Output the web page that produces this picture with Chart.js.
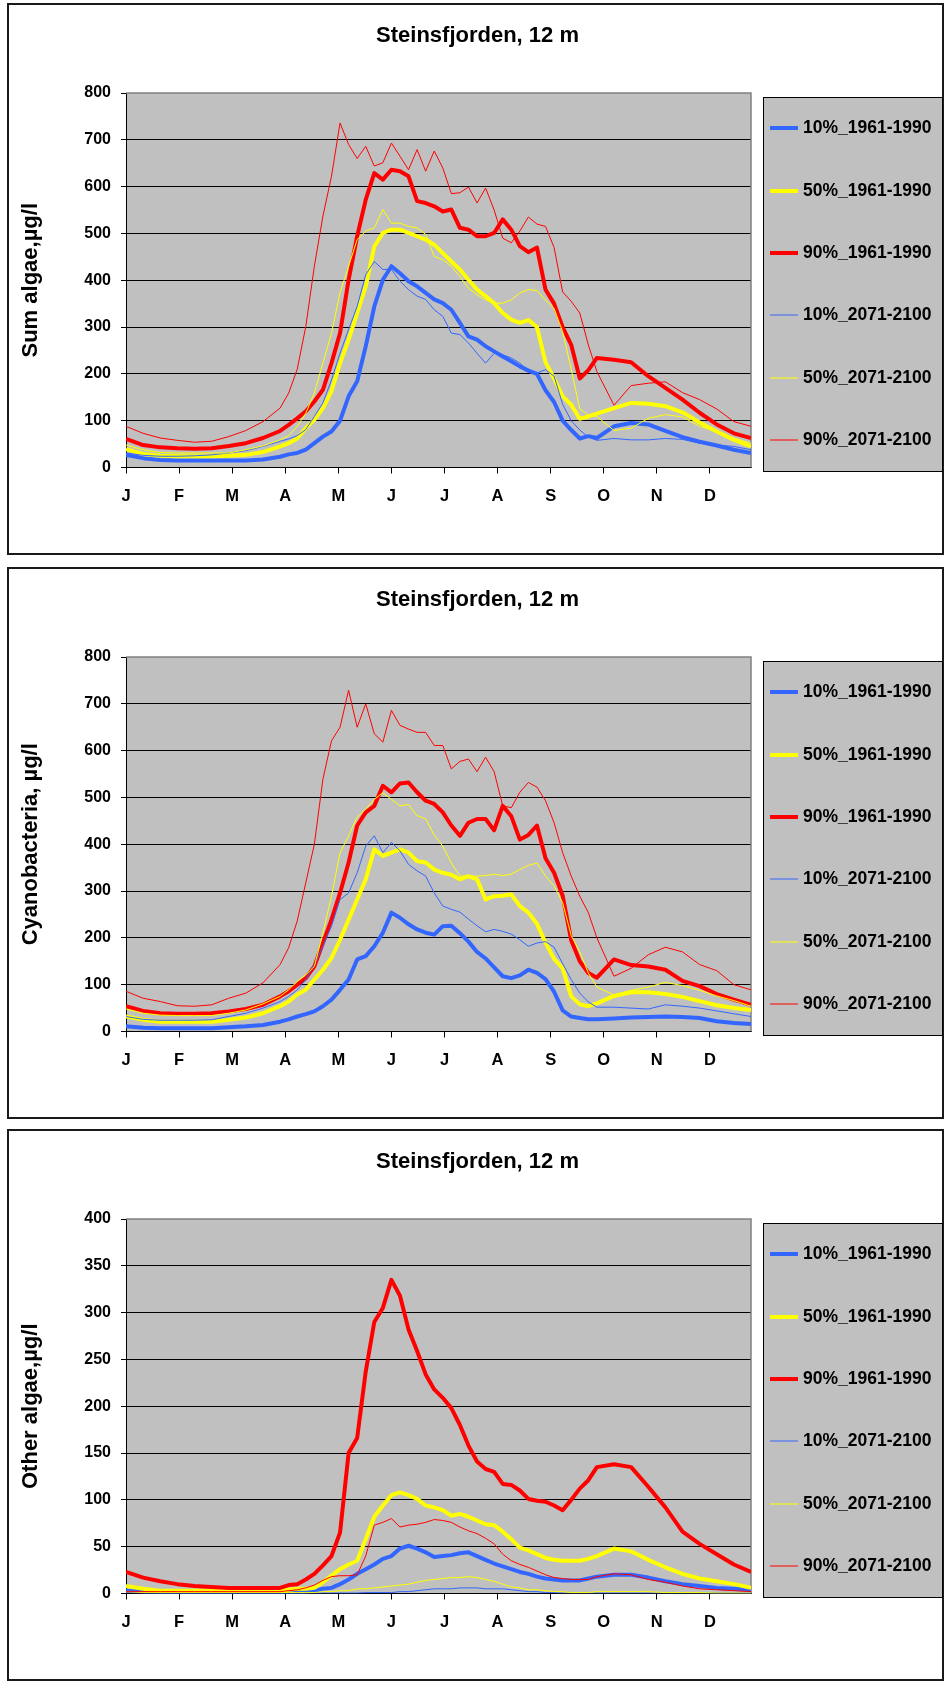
<!DOCTYPE html>
<html>
<head>
<meta charset="utf-8">
<title>Steinsfjorden, 12 m</title>
<script src="https://cdn.jsdelivr.net/npm/chart.js@4"></script>
<style>
  html, body { margin: 0; padding: 0; background: #fff; overflow: hidden; }
  body { width: 948px; height: 1682px; position: relative; }
  .frame { position: absolute; left: 7px; width: 937px; height: 552px; border: 2px solid #1a1a1a; box-sizing: border-box; }
  canvas { position: absolute; left: 0; }
</style>
</head>
<body>
<div class="frame" style="top:3px"></div>
<div class="frame" style="top:567px"></div>
<div class="frame" style="top:1129px"></div>
<canvas id="sumChart" width="948" height="556" style="top:0"></canvas>
<canvas id="cyanoChart" width="948" height="556" style="top:564px"></canvas>
<canvas id="otherChart" width="948" height="556" style="top:1126px"></canvas>
<script>
// day of year for every sample
const days = [0,10,20,30,40,50,60,70,80,90,
  95,100,105,110,115,120,125,130,135,140,145,150,155,160,165,170,175,180,185,190,
  195,200,205,210,215,220,225,230,235,240,245,250,255,260,265,270,275,
  285,295,305,315,325,335,345,355,365];

const monthStarts = [0,31,62,93,124,155,186,217,248,279,310,341];
const monthLetters = ['J','F','M','A','M','J','J','A','S','O','N','D'];

const seriesLabels = ['10%_1961-1990','50%_1961-1990','90%_1961-1990',
                      '10%_2071-2100','50%_2071-2100','90%_2071-2100'];

// Sum algae, µg/l
const sum10Ref = [27,20,16,15,15,15,15,15,17,23,
  28,31,38,52,66,77,100,152,184,259,344,401,430,415,398,387,373,359,351,337,
  309,280,273,259,248,237,227,216,207,200,165,140,100,80,62,67,63,
  88,95,92,78,65,55,47,38,31];
const sum50Ref = [39,29,25,24,24,24,25,27,33,45,
  52,62,84,102,127,163,223,273,330,387,472,501,508,508,501,494,487,476,458,440,
  423,401,380,366,351,330,316,309,315,300,225,190,152,134,104,109,115,
  127,138,136,131,118,96,77,59,45];
const sum90Ref = [61,48,43,41,40,41,46,52,63,78,
  91,105,120,141,166,223,287,401,494,572,629,615,636,633,622,569,565,558,547,551,
  512,508,494,494,501,530,508,473,460,470,380,350,300,262,190,208,234,
  230,225,195,170,145,117,92,73,63];
const sum10Fut = [31,26,24,24,25,27,31,36,45,56,
  61,68,81,109,138,187,244,295,344,412,440,423,423,398,380,366,359,337,323,287,
  284,266,244,223,244,241,234,223,206,202,209,195,135,100,80,65,58,
  62,59,59,62,60,52,48,45,38];
const sum50Fut = [48,38,32,31,31,31,31,38,46,59,
  68,88,116,159,223,287,373,430,487,505,512,551,522,522,515,512,498,451,444,430,
  408,383,369,358,351,351,358,373,380,378,358,340,290,210,125,112,109,
  79,84,105,113,108,88,76,63,52];
const sum90Fut = [88,73,63,58,54,56,66,79,98,127,
  159,210,301,430,537,622,736,690,660,686,644,651,693,665,636,679,633,676,640,585,
  587,599,565,597,550,490,480,505,535,520,515,470,375,355,330,262,205,
  133,175,180,183,160,145,125,98,88];

// Cyanobacteria, µg/l
const cyano10Ref = [11,8,7,7,7,7,9,11,14,21,
  26,32,37,43,54,68,89,111,154,161,182,211,254,243,229,218,211,207,225,226,
  210,192,170,156,137,118,114,120,132,125,112,85,45,32,29,26,26,
  28,30,31,32,31,29,22,18,16];
const cyano50Ref = [32,25,21,21,21,21,25,30,39,54,
  64,79,89,111,132,157,196,239,282,325,389,375,382,389,382,364,361,346,339,335,
  325,332,325,282,289,290,293,268,254,230,190,155,135,75,58,54,60,
  76,84,84,80,74,65,56,50,46];
const cyano90Ref = [54,44,39,38,38,39,43,48,57,75,
  86,100,114,139,189,239,296,361,440,468,482,525,511,530,532,511,493,486,468,440,
  418,446,454,454,430,482,460,410,420,440,370,339,290,195,150,125,115,
  154,142,139,132,108,97,80,68,57];
const cyano10Fut = [32,26,24,24,24,25,32,39,50,64,
  75,89,111,143,182,225,282,296,339,396,418,382,404,386,357,343,332,296,268,261,
  255,240,226,213,218,214,208,196,182,189,192,180,145,111,82,63,52,
  52,50,48,57,54,50,44,38,32];
const cyano50Fut = [48,39,35,34,34,34,39,46,59,75,
  89,107,121,139,210,289,382,418,458,475,496,510,496,482,485,461,454,420,396,360,
  332,332,332,333,336,333,336,346,355,360,332,311,275,205,170,125,95,
  78,88,95,105,98,88,76,66,54];
const cyano90Fut = [86,71,64,55,54,57,71,82,104,143,
  179,236,318,400,539,621,650,729,650,700,636,618,686,654,646,639,639,611,611,561,
  577,582,555,586,555,482,478,511,532,522,493,446,382,332,289,254,200,
  118,135,164,180,170,143,130,100,89];

// Other algae, µg/l
const other10Ref = [3,2,2,2,2,2,2,2,2,2,
  2,2,2,3,5,6,10,15,21,26,31,37,40,48,51,48,44,39,40,41,
  43,44,40,36,32,29,26,23,21,18,16,15,14,14,14,16,18,
  20,20,17,13,10,8,6,5,4];
const other50Ref = [8,5,3,3,3,3,3,3,3,3,
  4,5,5,6,12,19,26,31,35,58,82,94,105,108,105,101,94,92,89,83,
  85,82,78,74,73,66,58,49,46,42,38,36,35,35,35,37,40,
  48,45,36,28,21,16,13,10,6];
const other90Ref = [23,17,13,10,8,7,6,6,6,6,
  9,10,15,21,30,40,65,150,166,237,290,305,335,318,282,259,234,218,209,198,
  180,158,141,133,130,117,116,110,101,99,98,94,89,100,112,121,135,
  138,135,114,92,66,53,42,31,23];
const other10Fut = [1,1,0.5,0.5,0.5,0.5,0.5,0.5,0.5,0.5,
  0.5,0.5,0.5,0.5,0.5,0.5,0.5,0.5,0.5,1,1,1,1,2,2,3,4,5,5,5,
  6,6,6,5,5,5,4,3,2,2,1,1,0.5,0.5,0.5,0.5,0.5,
  0.5,0.5,0.5,0.5,0.5,0.5,0.5,0.5,0.5];
const other50Fut = [2,1,1,1,1,1,1,1,1,1,
  1,1,1,1,2,2,3,3,5,5,6,7,8,9,10,12,14,15,16,17,
  17,18,17,15,13,10,7,6,4,4,3,2,2,1,1,1,2,
  2,2,2,1,1,1,0.5,0.5,0.4];
const other90Fut = [2,2,2,2,2,2,2,2,2,2,
  3,4,6,9,14,18,19,19,20,40,73,76,80,71,73,74,76,79,78,76,
  71,67,64,59,53,42,35,31,28,24,20,17,16,15,15,15,18,
  21,20,15,12,8,5,4,3,2];

const FONT = '"Liberation Sans", Arial, Helvetica, sans-serif';
const lineColors = ['#3366ff','#ffff00','#ff0000','#3366ff','#ffff00','#ff0000'];
const lineWidths = [4,4,4,1,1,1];

// grey plot area with the grey frame on top and right
const plotBackground = {
  id: 'plotBackground',
  beforeDraw(chart) {
    const {ctx, chartArea: a} = chart;
    ctx.save();
    ctx.fillStyle = '#c0c0c0';
    ctx.fillRect(a.left, a.top, a.width, a.height);
    ctx.restore();
  },
  beforeDatasetsDraw(chart) {
    const {ctx, chartArea: a} = chart;
    ctx.save();
    ctx.strokeStyle = '#808080';
    ctx.lineWidth = 1.5;
    ctx.beginPath();
    ctx.moveTo(a.left, a.top);
    ctx.lineTo(a.right, a.top);
    ctx.lineTo(a.right, a.bottom);
    ctx.stroke();
    ctx.restore();
  }
};

// legend drawn as a framed grey box right of the plot
const boxLegend = {
  id: 'boxLegend',
  afterDraw(chart) {
    const {ctx, chartArea: a} = chart;
    const left = Math.round(a.right + 12);
    const right = chart.width - 6;
    const top = Math.round(a.top + 3.5);
    const bottom = Math.round(a.bottom + 3.5);
    const step = (bottom - top) / chart.data.datasets.length;
    ctx.save();
    ctx.fillStyle = '#c0c0c0';
    ctx.fillRect(left, top, right - left, bottom - top);
    ctx.strokeStyle = '#000';
    ctx.lineWidth = 1;
    ctx.strokeRect(left + 0.5, top + 0.5, right - left, bottom - top);
    ctx.font = 'bold 17.5px ' + FONT;
    ctx.textBaseline = 'middle';
    chart.data.datasets.forEach((ds, i) => {
      const y = Math.round(top + step * (i + 0.5));
      ctx.strokeStyle = ds.borderColor;
      ctx.lineWidth = ds.borderWidth;
      ctx.beginPath();
      ctx.moveTo(left + 7, y);
      ctx.lineTo(left + 35, y);
      ctx.stroke();
      ctx.fillStyle = '#000';
      ctx.fillText(ds.label, left + 40, y);
    });
    ctx.restore();
  }
};

function makePanel(id, yTitle, yMax, yStep, series) {
  const datasets = series.map((vals, i) => ({
    label: seriesLabels[i],
    data: days.map((d, k) => ({x: d, y: vals[k]})),
    borderColor: lineColors[i],
    borderWidth: lineWidths[i],
    pointRadius: 0,
    tension: 0,
    borderJoinStyle: 'round',
    order: series.length - i
  }));

  return new Chart(document.getElementById(id), {
    type: 'line',
    data: {datasets},
    options: {
      responsive: false,
      animation: false,
      devicePixelRatio: 1,
      layout: {padding: {left: 7, right: 0, top: 0, bottom: 0}},
      plugins: {
        legend: {display: false},
        tooltip: {enabled: false},
        title: {
          display: true,
          text: 'Steinsfjorden, 12 m',
          color: '#000',
          font: {family: FONT, size: 22, weight: 'bold'},
          padding: {top: 23, bottom: 43.6}
        }
      },
      scales: {
        x: {
          type: 'linear',
          min: 0,
          max: 365,
          afterBuildTicks: s => { s.ticks = monthStarts.map(v => ({value: v})); },
          afterFit: s => { s.height = 88.5; },
          ticks: {
            autoSkip: false,
            maxRotation: 0,
            padding: 13,
            color: '#000',
            font: {family: FONT, size: 16.5, weight: 'bold'},
            callback: (v, i) => monthLetters[i]
          },
          grid: {drawOnChartArea: false, tickLength: 6, color: '#000'},
          border: {color: '#000', width: 1}
        },
        y: {
          min: 0,
          max: yMax,
          afterFit: s => { s.width = 119; },
          ticks: {
            stepSize: yStep,
            padding: 10,
            color: '#000',
            font: {family: FONT, size: 16, weight: 'bold'}
          },
          grid: {
            color: c => (c.tick && c.tick.value === yMax) ? 'rgba(0,0,0,0)' : '#000',
            tickColor: '#000',
            tickLength: 5,
            lineWidth: 1
          },
          border: {color: '#000', width: 1},
          title: {
            display: true,
            text: yTitle,
            color: '#000',
            font: {family: FONT, size: 22, weight: 'bold'},
            padding: {top: 10.5, bottom: 0}
          }
        },
        // empty axis that keeps room for the legend box
        legendSpace: {
          type: 'linear',
          position: 'right',
          display: true,
          afterFit: s => { s.width = 197; },
          grid: {display: false, drawTicks: false},
          border: {display: false},
          ticks: {display: false}
        }
      }
    },
    plugins: [plotBackground, boxLegend]
  });
}

makePanel('sumChart', 'Sum algae,µg/l', 800, 100,
  [sum10Ref, sum50Ref, sum90Ref, sum10Fut, sum50Fut, sum90Fut]);
makePanel('cyanoChart', 'Cyanobacteria, µg/l', 800, 100,
  [cyano10Ref, cyano50Ref, cyano90Ref, cyano10Fut, cyano50Fut, cyano90Fut]);
makePanel('otherChart', 'Other algae,µg/l', 400, 50,
  [other10Ref, other50Ref, other90Ref, other10Fut, other50Fut, other90Fut]);
</script>
</body>
</html>
